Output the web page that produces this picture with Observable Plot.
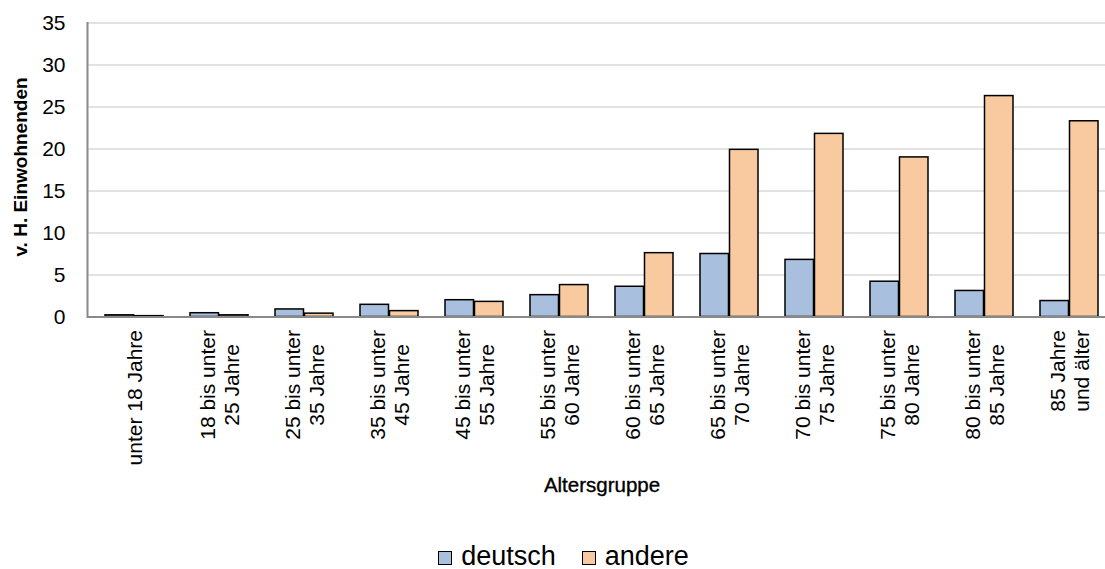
<!DOCTYPE html>
<html>
<head>
<meta charset="utf-8">
<script src="https://cdn.jsdelivr.net/npm/d3@7"></script>
<script src="https://cdn.jsdelivr.net/npm/@observablehq/plot@0.6"></script>
<style>
  html, body { margin: 0; padding: 0; background: #fff; overflow: hidden; }
  body { width: 1105px; height: 569px; font-family: "Liberation Sans", Arial, sans-serif; }
  #chart svg { overflow: hidden; }
  .legend { display: flex; justify-content: center; align-items: center; height: 49px; padding-left: 22px;
            font-family: "Liberation Sans", Arial, sans-serif; font-size: 27px; color: #000; margin-top: 12px; }
  .legend .item { display: flex; align-items: center; margin: 0 13px; }
  .legend .sw { width: 12px; height: 12px; border: 1.5px solid #000; margin-right: 9px; margin-top: 3px; }
</style>
</head>
<body>
<div id="chart"></div>
<div class="legend" id="legend"></div>
<script>
const categories = [
  "unter 18 Jahre",
  "18 bis unter\n25 Jahre",
  "25 bis unter\n35 Jahre",
  "35 bis unter\n45 Jahre",
  "45 bis unter\n55 Jahre",
  "55 bis unter\n60 Jahre",
  "60 bis unter\n65 Jahre",
  "65 bis unter\n70 Jahre",
  "70 bis unter\n75 Jahre",
  "75 bis unter\n80 Jahre",
  "80 bis unter\n85 Jahre",
  "85 Jahre\nund älter"
];
const deutsch = [0.2, 0.45, 0.9, 1.45, 2.0, 2.6, 3.6, 7.5, 6.8, 4.2, 3.1, 1.9];
const andere  = [0.1, 0.2, 0.4, 0.7, 1.8, 3.8, 7.6, 19.9, 21.8, 19.0, 26.3, 23.3];
const seriesNames = ["deutsch", "andere"];
const seriesColors = ["#a8bfdd", "#f9caa0"];
const yTicks = [0, 5, 10, 15, 20, 25, 30, 35];

const rowsD = categories.map((c, i) => ({cat: c, value: deutsch[i]}));
const rowsA = categories.map((c, i) => ({cat: c, value: andere[i]}));

const W = 1105, H = 520;
const mL = 87, mR = -11, mT = 22.5, mB = 203.5;
const pi = 0.312, po = 0.156;
const step = (W - mL - mR) / (categories.length - pi + 2 * po);
const bw = step * (1 - pi);

const chart = Plot.plot({
  width: W,
  height: H,
  marginLeft: mL,
  marginRight: mR,
  marginTop: mT,
  marginBottom: mB,
  style: {fontFamily: "Liberation Sans, Arial, sans-serif", color: "#000", background: "#fff"},
  x: {domain: categories, paddingInner: pi, paddingOuter: po, axis: null},
  y: {domain: [0, 35], axis: null},
  marks: [
    Plot.gridY(yTicks, {stroke: "#d9d9d9", strokeOpacity: 1, strokeWidth: 1.6}),
    Plot.barY(rowsD, {x: "cat", y: "value", insetRight: bw / 2, fill: seriesColors[0], stroke: "#000", strokeWidth: 1.5}),
    Plot.barY(rowsA, {x: "cat", y: "value", insetLeft: bw / 2, fill: seriesColors[1], stroke: "#000", strokeWidth: 1.5}),
    Plot.ruleY([0], {stroke: "#898989", strokeWidth: 2}),
    Plot.frame({anchor: "left", stroke: "#898989", strokeWidth: 2}),
    Plot.axisY(yTicks, {tickSize: 0, tickPadding: 22, fontSize: 21, label: null, fill: "#000"}),
    Plot.axisX({tickSize: 0, tickPadding: 13, tickRotate: -90, fontSize: 21, lineHeight: 1.15, label: null, fill: "#000"}),
    Plot.text(["Altersgruppe"], {frameAnchor: "bottom", dy: 175, fontSize: 20.5, fill: "#000", stroke: "#000", strokeWidth: 0.35}),
    Plot.text(["v. H. Einwohnenden"], {frameAnchor: "left", textAnchor: "middle", rotate: -90, dx: -67, dy: -3, fontSize: 19, fontWeight: "bold", fill: "#000"})
  ]
});
document.getElementById("chart").appendChild(chart);

// center the lines of the multi-line x tick labels relative to each other
chart.querySelectorAll("g[aria-label='x-axis tick label'] text").forEach(t => {
  const spans = t.querySelectorAll("tspan");
  if (spans.length < 2) return;
  let maxLen = 0;
  spans.forEach(s => { maxLen = Math.max(maxLen, s.getComputedTextLength()); });
  t.setAttribute("text-anchor", "middle");
  spans.forEach(s => s.setAttribute("x", -maxLen / 2));
});

const legend = document.getElementById("legend");
seriesNames.forEach((name, i) => {
  const item = document.createElement("div");
  item.className = "item";
  const sw = document.createElement("div");
  sw.className = "sw";
  sw.style.background = seriesColors[i];
  const label = document.createElement("span");
  label.textContent = name;
  item.appendChild(sw);
  item.appendChild(label);
  legend.appendChild(item);
});
</script>
</body>
</html>
